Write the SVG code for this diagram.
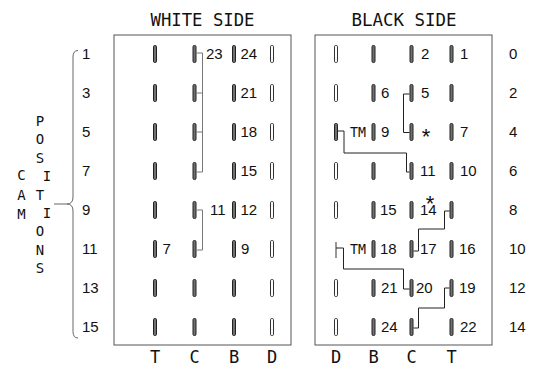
<svg xmlns="http://www.w3.org/2000/svg" width="547" height="367" viewBox="0 0 547 367">
<style>
.num{font-family:"Liberation Sans",Arial,sans-serif;font-size:15px;fill:#111}
.mono{font-family:"DejaVu Sans Mono",monospace;fill:#111}
.hdr{font-size:18px}
.col{font-size:17px}
.let{font-size:14px;text-anchor:middle}
.ast{font-family:"Liberation Sans",Arial,sans-serif;font-size:22px;fill:#111;text-anchor:middle}
.box{fill:none;stroke:#555;stroke-width:1}
.wire{fill:none;stroke:#222;stroke-width:1}
.wirew{fill:none;stroke:#777;stroke-width:1}
.brace{fill:none;stroke:#666;stroke-width:1}
</style>
<defs>
<rect id="cf" x="-1.5" y="-8.5" width="3" height="17" rx="1.2" fill="#707070" stroke="#222" stroke-width="1"/>
<rect id="ch" x="-1.5" y="-8.5" width="3" height="17" rx="1.2" fill="#fff" stroke="#333" stroke-width="1"/>
</defs>

<g id="titles">
<text class="mono hdr" x="202.5" y="26" text-anchor="middle" textLength="104" lengthAdjust="spacingAndGlyphs">WHITE SIDE</text>
<text class="mono hdr" x="404" y="26" text-anchor="middle" textLength="105" lengthAdjust="spacingAndGlyphs">BLACK SIDE</text>
</g>

<g id="cam-label">
<text class="mono let" x="21.5" y="180">C</text>
<text class="mono let" x="21.5" y="200">A</text>
<text class="mono let" x="21.5" y="219">M</text>
<text class="mono let" x="40" y="126">P</text>
<text class="mono let" x="40" y="144.4">O</text>
<text class="mono let" x="40" y="162.8">S</text>
<text class="mono let" x="47" y="181.2">I</text>
<text class="mono let" x="40" y="199.6">T</text>
<text class="mono let" x="47" y="218">I</text>
<text class="mono let" x="40" y="236.4">O</text>
<text class="mono let" x="40" y="254.8">N</text>
<text class="mono let" x="40" y="273.2">S</text>
<path class="brace" d="M78,50.5 Q73,50.5 73,57 V197 Q73,204 67,204 Q73,204 73,211 V331.5 Q73,338 78,338 M54,204 H67"/>
</g>

<g id="left-positions" class="num">
<text x="82" y="59">1</text>
<text x="82" y="98">3</text>
<text x="82" y="137">5</text>
<text x="82" y="176">7</text>
<text x="82" y="215">9</text>
<text x="82" y="254">11</text>
<text x="82" y="293">13</text>
<text x="82" y="332">15</text>
</g>

<g id="right-positions" class="num">
<text x="509" y="59">0</text>
<text x="509" y="98">2</text>
<text x="509" y="137">4</text>
<text x="509" y="176">6</text>
<text x="509" y="215">8</text>
<text x="509" y="254">10</text>
<text x="509" y="293">12</text>
<text x="509" y="332">14</text>
</g>

<g id="white-side">
<rect class="box" x="114" y="35" width="177" height="310"/>
<g id="white-contacts">
<use href="#cf" x="155" y="54"/><use href="#cf" x="194.5" y="54"/><use href="#cf" x="234" y="54"/><use href="#ch" x="272" y="54"/>
<use href="#cf" x="155" y="93"/><use href="#cf" x="194.5" y="93"/><use href="#cf" x="234" y="93"/><use href="#ch" x="272" y="93"/>
<use href="#cf" x="155" y="132"/><use href="#cf" x="194.5" y="132"/><use href="#cf" x="234" y="132"/><use href="#ch" x="272" y="132"/>
<use href="#cf" x="155" y="171"/><use href="#cf" x="194.5" y="171"/><use href="#cf" x="234" y="171"/><use href="#ch" x="272" y="171"/>
<use href="#cf" x="155" y="210"/><use href="#cf" x="194.5" y="210"/><use href="#cf" x="234" y="210"/><use href="#ch" x="272" y="210"/>
<use href="#cf" x="155" y="249"/><use href="#cf" x="194.5" y="249"/><use href="#cf" x="234" y="249"/><use href="#ch" x="272" y="249"/>
<use href="#cf" x="155" y="288"/><use href="#cf" x="194.5" y="288"/><use href="#cf" x="234" y="288"/><use href="#ch" x="272" y="288"/>
<use href="#cf" x="155" y="327"/><use href="#cf" x="194.5" y="327"/><use href="#cf" x="234" y="327"/><use href="#ch" x="272" y="327"/>
</g>
<g id="white-labels" class="num">
<text x="206" y="59">23</text><text x="240.5" y="59">24</text>
<text x="240.5" y="98">21</text>
<text x="240.5" y="137">18</text>
<text x="240.5" y="176">15</text>
<text x="210" y="215">11</text><text x="240.5" y="215">12</text>
<text x="162.5" y="254">7</text><text x="241" y="254">9</text>
</g>
<g id="white-columns" class="mono col" text-anchor="middle">
<text x="155" y="363">T</text><text x="194.5" y="363">C</text><text x="234" y="363">B</text><text x="272" y="363">D</text>
</g>
</g>

<g id="black-side">
<rect class="box" x="315" y="35" width="177" height="310"/>
<g id="black-contacts">
<use href="#ch" x="336" y="54"/><use href="#cf" x="373.5" y="54"/><use href="#cf" x="411.5" y="54"/><use href="#cf" x="451.5" y="54"/>
<use href="#ch" x="336" y="93"/><use href="#cf" x="373.5" y="93"/><use href="#cf" x="411.5" y="93"/><use href="#cf" x="451.5" y="93"/>
<use href="#cf" x="336" y="132"/><use href="#cf" x="373.5" y="132"/><use href="#cf" x="411.5" y="132"/><use href="#cf" x="451.5" y="132"/>
<use href="#ch" x="336" y="171"/><use href="#cf" x="373.5" y="171"/><use href="#cf" x="411.5" y="171"/><use href="#cf" x="451.5" y="171"/>
<use href="#ch" x="336" y="210"/><use href="#cf" x="373.5" y="210"/><use href="#cf" x="411.5" y="210"/><use href="#cf" x="451.5" y="210"/>
<line x1="336" y1="242" x2="336" y2="258" stroke="#333" stroke-width="1"/><use href="#cf" x="373.5" y="249"/><use href="#cf" x="411.5" y="249"/><use href="#cf" x="451.5" y="249"/>
<use href="#ch" x="336" y="288"/><use href="#cf" x="373.5" y="288"/><use href="#cf" x="411.5" y="288"/><use href="#cf" x="451.5" y="288"/>
<use href="#ch" x="336" y="327"/><use href="#cf" x="373.5" y="327"/><use href="#cf" x="411.5" y="327"/><use href="#cf" x="451.5" y="327"/>
</g>
<g id="black-labels" class="num">
<text x="421" y="59">2</text><text x="460" y="59">1</text>
<text x="381" y="98">6</text><text x="421" y="98">5</text>
<text class="mono" x="350" y="137" font-size="14" textLength="16" lengthAdjust="spacingAndGlyphs">TM</text><text x="381" y="137">9</text><text class="ast" x="426" y="143.5">*</text><text x="460" y="137">7</text>
<text x="420" y="176">11</text><text x="460" y="176">10</text>
<text x="380" y="215">15</text><text x="420" y="215">14</text><text class="ast" x="430" y="211">*</text>
<text class="mono" x="350" y="254" font-size="14" textLength="16" lengthAdjust="spacingAndGlyphs">TM</text><text x="380" y="254">18</text><text x="420" y="254">17</text><text x="459" y="254">16</text>
<text x="381" y="293">21</text><text x="416" y="293">20</text><text x="459" y="293">19</text>
<text x="381" y="332">24</text><text x="460" y="332">22</text>
</g>
<g id="black-columns" class="mono col" text-anchor="middle">
<text x="336" y="363">D</text><text x="373.5" y="363">B</text><text x="411.5" y="363">C</text><text x="451.5" y="363">T</text>
</g>
</g>

<g id="connectors">
<path class="wirew" d="M196.5,53 H202.5 V172 H196.5 M196.5,93 H202.5 M196.5,132 H202.5"/>
<path class="wirew" d="M196.5,210 H202.5 V250 H196.5"/>
<path class="wire" d="M409.5,94 H403.5 V132.5 H409.5"/>
<path class="wire" d="M338,131 H344 V153 H406.5 V172 H409.5"/>
<path class="wire" d="M449.5,211 H444.5 V229 H418.5 V251 H413.5"/>
<path class="wire" d="M336,248 H343.5 V269 H403.5 V289 H409.5"/>
<path class="wire" d="M449.5,288 H444.5 V308 H418.5 V328 H413.5"/>
</g>
</svg>
